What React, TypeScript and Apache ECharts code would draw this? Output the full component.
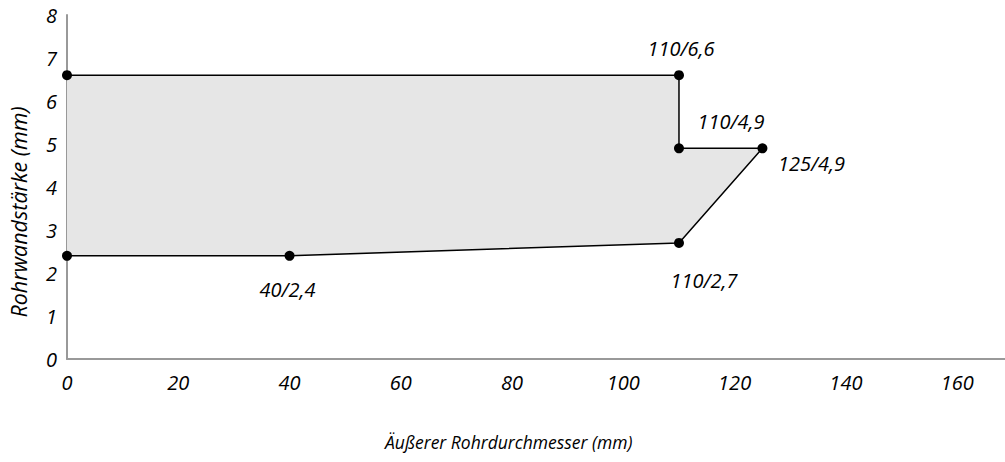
import React, { useEffect, useRef } from "react";
import * as echarts from "echarts";

// Outline of the permitted region (outer diameter mm / wall thickness mm)
const outlineX = [0, 110, 110, 125, 110, 40, 0];
const outlineY = [6.6, 6.6, 4.9, 4.9, 2.7, 2.4, 2.4];
// Labelled corner points
const pointLabels = ["", "110/6,6", "110/4,9", "125/4,9", "110/2,7", "40/2,4", ""];
const xTicks = [0, 20, 40, 60, 80, 100, 120, 140, 160];
const yTicks = [0, 1, 2, 3, 4, 5, 6, 7, 8];
const xAxisTitle = "Äußerer Rohrdurchmesser (mm)";
const yAxisTitle = "Rohrwandstärke (mm)";

const FONT = "Open Sans";

export default function App() {
  const ref = useRef<HTMLDivElement>(null);
  useEffect(() => {
    document.body.style.margin = "0";
    if (!ref.current) return;
    const chart = echarts.init(ref.current, undefined, { renderer: "svg" });
    const pts = outlineX.map((x, i) => [x, outlineY[i]]);
    const offsets: Record<number, [number, number]> = {
      1: [2, -27],
      2: [52, -27],
      3: [49, 15],
      4: [25, 38],
      5: [-2, 34],
    };
    const labelStyle = {
      fontFamily: FONT,
      fontStyle: "italic" as const,
      fontSize: 20,
      color: "#000000",
    };
    chart.setOption({
      animation: false,
      grid: { left: 67, right: 0, top: 15, bottom: 103, containLabel: false },
      xAxis: {
        type: "value",
        min: 0,
        max: 168.6,
        interval: 20,
        axisLine: { show: true, lineStyle: { color: "#999999", width: 2 } },
        axisTick: { show: false },
        splitLine: { show: false },
        axisLabel: {
          ...labelStyle,
          margin: 13,
          showMaxLabel: false,
          formatter: (v: number) => (xTicks.includes(v) ? String(v) : ""),
        },
      },
      yAxis: {
        type: "value",
        min: 0,
        max: 8,
        interval: 1,
        axisLine: { show: true, lineStyle: { color: "#999999", width: 2 } },
        axisTick: { show: false },
        splitLine: { show: false },
        axisLabel: {
          ...labelStyle,
          margin: 10,
          formatter: (v: number) => (yTicks.includes(v) ? String(v) : ""),
        },
      },
      graphic: [
        {
          type: "text",
          x: 385,
          y: 442,
          style: {
            text: xAxisTitle,
            fontFamily: FONT,
            fontStyle: "italic",
            fontSize: 17.5,
            fill: "#000000",
            verticalAlign: "middle",
          },
        },
        {
          type: "text",
          x: 18,
          y: 212,
          rotation: Math.PI / 2,
          style: {
            text: yAxisTitle,
            fontFamily: FONT,
            fontStyle: "italic",
            fontSize: 21.5,
            fill: "#000000",
            align: "center",
            verticalAlign: "middle",
          },
        },
      ],
      series: [
        {
          type: "custom",
          silent: true,
          z: 1,
          data: [0],
          renderItem: (params: any, api: any) => ({
            type: "polygon",
            shape: { points: pts.map((p) => api.coord(p)) },
            style: { fill: "#e6e6e6", stroke: "none" },
          }),
        },
        {
          type: "line",
          z: 3,
          data: pts,
          showSymbol: false,
          lineStyle: { color: "#000", width: 1.5 },
        },
        {
          type: "scatter",
          z: 4,
          symbolSize: 10,
          itemStyle: { color: "#000", opacity: 1 },
          data: pts.map((p, i) => ({
            value: p,
            label: {
              show: pointLabels[i] !== "",
              formatter: pointLabels[i],
              position: "inside",
              offset: offsets[i] || [0, 0],
              ...labelStyle,
            },
          })),
        },
      ],
    });
    return () => chart.dispose();
  }, []);
  return (
    <div
      ref={ref}
      style={{ position: "absolute", left: 0, top: 0, width: 1005, height: 462 }}
    />
  );
}
